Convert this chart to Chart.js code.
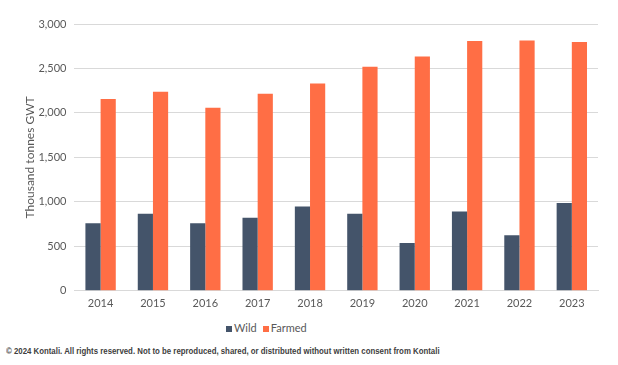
<!DOCTYPE html>
<html>
<head>
<meta charset="utf-8">
<script src="https://cdn.jsdelivr.net/npm/chart.js@4/dist/chart.umd.min.js"></script>
<style>
	body { margin: 0; background: #fff; width: 618px; height: 365px; overflow: hidden; position: relative; font-family: Lato, sans-serif; }
	#wrap { position: absolute; left: 0; top: 0; width: 618px; height: 316px; }
	#legend { position: absolute; top: 321px; left: 226px; font-size: 11px; color: #595959; white-space: nowrap; }
	#legend span.box { display: inline-block; width: 6px; height: 6px; margin-right: 2px; vertical-align: 0px; }
	#legend span.item { margin-right: 6px; }
	#footer { position: absolute; top: 346px; left: 6px; font-family: "Liberation Sans", Arial, sans-serif; font-weight: bold; font-size: 9px; color: #404040; white-space: nowrap; transform: scaleX(0.87); transform-origin: 0 0; }
</style>
</head>
<body>
<div id="wrap"><canvas id="chart"></canvas></div>
<div id="legend"></div>
<div id="footer">© 2024 Kontali. All rights reserved. Not to be reproduced, shared, or distributed without written consent from Kontali</div>
<script>
// data
var years   = ["2014","2015","2016","2017","2018","2019","2020","2021","2022","2023"];
var wild    = [760, 866, 760, 821, 948, 866, 538, 892, 624, 986];
var farmed  = [2157, 2239, 2059, 2217, 2330, 2518, 2635, 2808, 2815, 2797];
var yTicks  = [0, 500, 1000, 1500, 2000, 2500, 3000];

var colWild   = "#44546A";
var colFarmed = "#FF6E45";

var ctx = document.getElementById("chart").getContext("2d");
var chart = new Chart(ctx, {
	type: "bar",
	data: {
		labels: years,
		datasets: [
			{ label: "Wild", data: wild, backgroundColor: colWild },
			{ label: "Farmed", data: farmed, backgroundColor: colFarmed }
		]
	},
	options: {
		responsive: true,
		maintainAspectRatio: false,
		animation: false,
		layout: { padding: { top: 24, right: 20, left: 23, bottom: 0 } },
		datasets: { bar: { categoryPercentage: 0.58, barPercentage: 1.0 } },
		plugins: {
			legend: { display: false },
			tooltip: { enabled: false }
		},
		scales: {
			x: {
				grid: { display: false, drawTicks: false },
				border: { color: "#d9d9d9" },
				ticks: { color: "#595959", font: { family: "Lato", size: 11 }, padding: 6 }
			},
			y: {
				min: 0,
				max: 3000,
				afterBuildTicks: function (axis) { axis.ticks = yTicks.map(function (v) { return { value: v }; }); },
				grid: { color: "#d9d9d9", drawTicks: false },
				border: { display: false },
				ticks: {
					color: "#595959",
					font: { family: "Lato", size: 11 },
					padding: 8,
					callback: function (v) { return v.toLocaleString("en-US"); }
				},
				title: {
					display: true,
					text: "Thousand tonnes GWT",
					color: "#595959",
					font: { family: "Lato", size: 12 },
					padding: { top: 0, bottom: -7 }
				}
			}
		}
	}
});

// html legend
var legend = document.getElementById("legend");
chart.data.datasets.forEach(function (ds) {
	var item = document.createElement("span");
	item.className = "item";
	item.innerHTML = '<span class="box" style="background:' + ds.backgroundColor + '"></span>' + ds.label;
	legend.appendChild(item);
});
</script>
</body>
</html>
